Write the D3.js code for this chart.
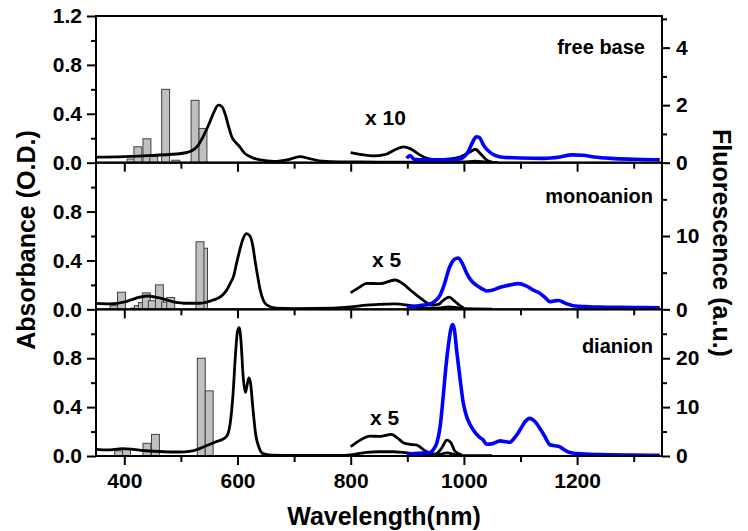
<!DOCTYPE html>
<html><head><meta charset="utf-8">
<script src="https://cdn.jsdelivr.net/npm/d3@7"></script>
<style>
body{margin:0;background:#fff}
text{font-family:"Liberation Sans",Arial,sans-serif;font-weight:bold;fill:#000}
</style>
</head><body>
<svg id="c" width="748" height="531"></svg>
<script>
// ---------- data ----------
const panelNames = ["free base", "monoanion", "dianion"];
const scaleLabels = ["x 10", "x 5", "x 5"];
const xTicksMajor = [400, 600, 800, 1000, 1200];
const xTicksMinor = [500, 700, 900, 1100, 1300];
const absTicksMajor = [[0, 0.4, 0.8, 1.2], [0, 0.4, 0.8], [0, 0.4, 0.8]];
const absTicksMinor = [0.2, 0.6, 1.0];
const fluoMax = [5.1, 20, 30];
const fluoTicksMajor = [[0, 2, 4], [0, 10], [0, 10, 20]];
const fluoTicksMinor = [[1, 3, 5], [5, 15], [5, 15, 25]];

// free base
const fbAbsWl = [350,400,450,500,520,530,540,550,558,566,572,578,584,590,596,604,612,622,640,665,690,710,730,750,780,850,950,1000,1020,1040,1060];
const fbAbs   = [0.045,0.05,0.06,0.075,0.1,0.14,0.22,0.32,0.41,0.47,0.46,0.40,0.30,0.21,0.17,0.13,0.08,0.05,0.022,0.01,0.025,0.05,0.03,0.012,0.006,0.005,0.004,0.006,0.012,0.004,0.002];
const fbZoomWl = [800,820,840,860,880,893,905,920,935,952,975,995,1010,1020,1030,1042,1050];
const fbZoom   = [0.082,0.065,0.055,0.065,0.11,0.13,0.115,0.07,0.035,0.025,0.03,0.05,0.085,0.11,0.07,0.015,0.005];
const fbFluoWl = [899,905,912,930,960,990,1000,1008,1015,1022,1027,1035,1045,1055,1065,1100,1140,1170,1190,1210,1230,1260,1300,1346];
const fbFluo   = [0.15,0.25,0.12,0.1,0.1,0.12,0.2,0.4,0.7,0.9,0.88,0.6,0.38,0.25,0.2,0.16,0.15,0.2,0.27,0.26,0.2,0.15,0.12,0.1];
const fbBarWl = [412,424,440,452,473,491,525,539];
const fbBarH  = [0.03,0.13,0.195,0.05,0.6,0.02,0.51,0.28];

// monoanion
const moAbsWl = [350,375,400,420,440,460,487,510,534,557,572,581,588,593,598,604,610,616,622,627,631,636,640,646,652,669,700,770,800,828,850,878,900,917,940,955,968,975,985,1000,1050];
const moAbs   = [0.049,0.045,0.06,0.09,0.109,0.095,0.062,0.05,0.05,0.076,0.11,0.158,0.22,0.27,0.37,0.485,0.58,0.62,0.6,0.52,0.40,0.26,0.16,0.07,0.035,0.01,0.006,0.01,0.02,0.035,0.04,0.045,0.035,0.02,0.01,0.01,0.018,0.02,0.015,0.005,0.002];
const moZoomWl = [800,815,828,852,878,895,905,917,928,943,955,965,974,983,993,1000];
const moZoom   = [0.136,0.18,0.213,0.21,0.24,0.2,0.158,0.115,0.076,0.035,0.04,0.08,0.1,0.07,0.03,0.01];
const moFluoWl = [899,920,940,950,958,965,975,983,990,997,1005,1013,1022,1032,1040,1050,1064,1080,1096,1110,1123,1134,1145,1152,1160,1167,1180,1193,1220,1240,1300,1346];
const moFluo   = [0.35,0.5,0.72,1.2,1.95,3.3,5.8,6.8,7.0,6.3,4.9,3.9,3.3,2.8,2.5,2.6,3.0,3.3,3.5,3.2,2.6,2.2,1.5,1.03,1.15,1.2,0.8,0.5,0.35,0.3,0.25,0.2];
const moBarWl = [382,395,419,425,432,439,449.5,462,473,482,540,533.7];
const moBarH  = [0.03,0.14,0.01,0.03,0.055,0.135,0.07,0.2,0.06,0.097,0.5,0.553];

// dianion
const diAbsWl = [350,370,397,415,438,470,497,515,527,544,562,575,582,588,592,596,600,603,606,610,614,617,620,623,627,632,638,645,660,700,780,800,828,850,875,900,917,940,955,970,985,1000,1050];
const diAbs   = [0.055,0.05,0.06,0.055,0.043,0.035,0.033,0.038,0.05,0.082,0.117,0.14,0.17,0.3,0.5,0.8,1.02,1.05,0.95,0.65,0.52,0.58,0.64,0.6,0.4,0.18,0.07,0.02,0.008,0.004,0.004,0.01,0.03,0.035,0.035,0.025,0.018,0.01,0.012,0.025,0.01,0.003,0.002];
const diZoomWl = [800,817,834,852,872,882,893,905,917,925,934,949,960,970,977,984,996];
const diZoom   = [0.076,0.13,0.163,0.16,0.177,0.15,0.109,0.095,0.09,0.065,0.035,0.016,0.06,0.13,0.11,0.04,0.01];
const diFluoWl = [899,920,940,947,952,958,964,968,973,977,980,983,987,993,999,1005,1011,1020,1028,1034,1040,1050,1064,1075,1081,1090,1099,1108,1116,1125,1134,1143,1152,1160,1167,1177,1187,1200,1240,1300,1346];
const diFluo   = [0.4,0.55,0.7,1.5,2.6,6,12.9,18,23,26,26.9,26,21.8,16,10.8,8,6.4,4.8,3.8,3.3,2.4,2.5,3.1,2.9,2.8,3.8,5.3,7,7.7,7.1,5.7,4,2.3,2.1,2.0,1.3,0.7,0.5,0.3,0.2,0.15];
const diBarWl = [390,404,440,455,536,550];
const diBarH  = [0.043,0.057,0.104,0.177,0.8,0.533];

const barWidthNm = 14;

// ---------- build ----------
const panels = [
  {abs: d3.zip(fbAbsWl, fbAbs), zoom: d3.zip(fbZoomWl, fbZoom), fluo: d3.zip(fbFluoWl, fbFluo), bars: d3.zip(fbBarWl, fbBarH)},
  {abs: d3.zip(moAbsWl, moAbs), zoom: d3.zip(moZoomWl, moZoom), fluo: d3.zip(moFluoWl, moFluo), bars: d3.zip(moBarWl, moBarH)},
  {abs: d3.zip(diAbsWl, diAbs), zoom: d3.zip(diZoomWl, diZoom), fluo: d3.zip(diFluoWl, diFluo), bars: d3.zip(diBarWl, diBarH)}
];

const svg = d3.select("#c");
const L = 96, R = 662, T = 16, PH = 146.67;
const x = d3.scaleLinear().domain([350, 1350]).range([L, R]);

const nameLayout = [[645, 54], [653, 203], [653, 353]];
const zoomLayout = [[365, 125], [372, 267], [370, 425]];

panels.forEach((p, i) => {
  const top = T + i * PH, bot = top + PH;
  const yA = d3.scaleLinear().domain([0, 1.2]).range([bot, top]);
  const yF = d3.scaleLinear().domain([0, fluoMax[i]]).range([bot, top]);
  const g = svg.append("g");
  const cid = "clip" + i;
  svg.append("clipPath").attr("id", cid).append("rect")
     .attr("x", L).attr("y", top).attr("width", R - L).attr("height", PH);
  const pg = g.append("g").attr("clip-path", `url(#${cid})`);

  // bars
  pg.selectAll("rect.bar").data(p.bars).join("rect").attr("class", "bar")
    .attr("x", d => x(d[0] - barWidthNm / 2))
    .attr("width", d => x(d[0] + barWidthNm / 2) - x(d[0] - barWidthNm / 2))
    .attr("y", d => yA(d[1]))
    .attr("height", d => yA(0) - yA(d[1]))
    .attr("fill", "#c0c0c0").attr("stroke", "#404040").attr("stroke-width", 1);

  const lineA = d3.line().x(d => x(d[0])).y(d => yA(d[1])).curve(d3.curveMonotoneX);
  const lineF = d3.line().x(d => x(d[0])).y(d => yF(d[1])).curve(d3.curveMonotoneX);
  pg.append("path").datum(p.abs).attr("d", lineA).attr("fill", "none").attr("stroke", "#000").attr("stroke-width", 2.8);
  pg.append("path").datum(p.zoom).attr("d", lineA).attr("fill", "none").attr("stroke", "#000").attr("stroke-width", 2.8);
  pg.append("path").datum(p.fluo).attr("d", lineF).attr("fill", "none").attr("stroke", "#0000ff").attr("stroke-width", 3.6);

  // axes
  const styleAxis = s => { s.select(".domain").remove(); s.selectAll("line").attr("stroke", "#000").attr("stroke-width", 2); s.selectAll("text").attr("font-size", 21).attr("font-family", null); };
  g.append("g").attr("transform", `translate(${L},0)`)
    .call(d3.axisLeft(yA).tickValues(absTicksMajor[i]).tickSize(9).tickPadding(5).tickFormat(d3.format(".1f"))).call(styleAxis);
  g.append("g").attr("transform", `translate(${L},0)`)
    .call(d3.axisLeft(yA).tickValues(absTicksMinor).tickSize(5).tickFormat("")).call(styleAxis);
  g.append("g").attr("transform", `translate(${R},0)`)
    .call(d3.axisRight(yF).tickValues(fluoTicksMajor[i]).tickSize(8).tickPadding(6).tickFormat(d3.format("d"))).call(styleAxis);
  g.append("g").attr("transform", `translate(${R},0)`)
    .call(d3.axisRight(yF).tickValues(fluoTicksMinor[i]).tickSize(5).tickFormat("")).call(styleAxis);
  g.append("g").attr("transform", `translate(0,${bot})`)
    .call(d3.axisBottom(x).tickValues(xTicksMajor).tickSize(9).tickPadding(8).tickFormat(i === 2 ? d3.format("d") : "")).call(styleAxis);
  g.append("g").attr("transform", `translate(0,${bot})`)
    .call(d3.axisBottom(x).tickValues(xTicksMinor).tickSize(6).tickFormat("")).call(styleAxis);

  g.append("rect").attr("x", L).attr("y", top).attr("width", R - L).attr("height", PH)
    .attr("fill", "none").attr("stroke", "#000").attr("stroke-width", 2);

  g.append("text").attr("x", nameLayout[i][0]).attr("y", nameLayout[i][1]).attr("text-anchor", "end")
    .attr("font-size", 20).text(panelNames[i]);
  g.append("text").attr("x", zoomLayout[i][0]).attr("y", zoomLayout[i][1])
    .attr("font-size", 21).text(scaleLabels[i]);
});

svg.append("text").attr("x", 384).attr("y", 525).attr("text-anchor", "middle").attr("font-size", 25).text("Wavelength(nm)");
svg.append("text").attr("transform", "translate(35,240) rotate(-90)").attr("text-anchor", "middle").attr("font-size", 25).text("Absorbance (O.D.)");
svg.append("text").attr("transform", "translate(713,243) rotate(90)").attr("text-anchor", "middle").attr("font-size", 25).text("Fluorescence (a.u.)");
</script>
</body></html>
